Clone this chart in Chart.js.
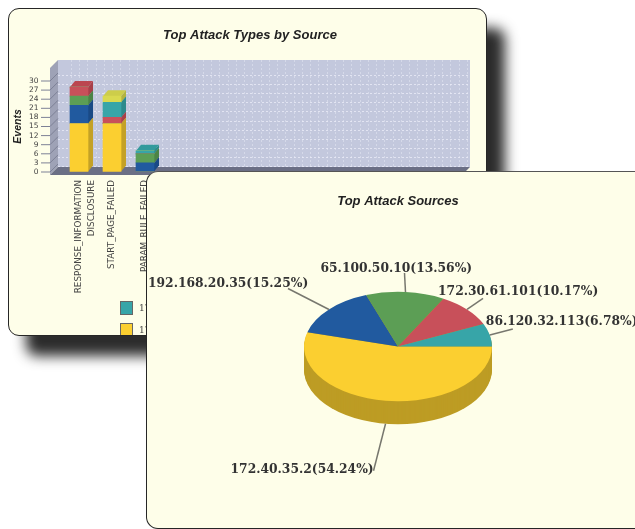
<!DOCTYPE html>
<html>
<head>
<meta charset="utf-8">
<title>Top Attack Charts</title>
<script src="https://cdn.jsdelivr.net/npm/chart.js@4/dist/chart.umd.min.js"></script>
<style>
    html, body { margin: 0; padding: 0; background: #fff; overflow: hidden; width: 635px; height: 529px; }
    canvas { display: block; }
    .card { position: absolute; box-sizing: border-box; background: #fefee9; border: 1.5px solid #262626; }
    #backCard { left: 8px; top: 8px; width: 479px; height: 328px; border-radius: 11px; box-shadow: 18px 20px 13px #2c2c2c; overflow: hidden; }
    #frontCard { left: 146px; top: 171px; width: 600px; height: 358px; border-radius: 12px; border-top-color: #555; }
    #barWrap { position: absolute; left: 12px; top: 8px; width: 476px; height: 328px; filter: blur(0.6px); }
    #pieWrap { position: absolute; left: 147px; top: 172px; width: 488px; height: 357px; filter: blur(0.6px); }
    #legend { position: absolute; left: 111px; top: 292px; filter: blur(0.4px); }
    #legend div { height: 22px; font: 9px "DejaVu Serif", serif; color: #444; white-space: nowrap; }
    #legend i { display: inline-block; box-sizing: border-box; width: 13px; height: 14px; margin-right: 6px; border: 1px solid #666; vertical-align: middle; }
</style>
</head>
<body>
<div id="backCard" class="card"><div id="legend"></div></div>
<div id="barWrap"><canvas id="typesChart" width="476" height="328"></canvas></div>
<div id="frontCard" class="card"></div>
<div id="pieWrap"><canvas id="sourcesChart" width="488" height="357"></canvas></div>
<script>
    // bar chart data
    var attackTypes = [['RESPONSE_INFORMATION', 'DISCLOSURE'], 'START_PAGE_FAILED', 'PARAM_RULE_FAILED'];
    var yellowEvents = [16, 16, 0];
    var blueEvents = [6, 0, 3];
    var greenEvents = [3, 0, 3];
    var redEvents = [3, 2, 0];
    var tealEvents = [0, 5, 1];
    var limeEvents = [0, 2, 0];
    var legendLabels = ['172.30.61.101', '172.40.35.2'];

    // pie chart data
    var sourceNames = ['172.40.35.2', '192.168.20.35', '65.100.50.10', '172.30.61.101', '86.120.32.113'];
    var sourceCounts = [32, 9, 8, 6, 4];

    var yellow = '#fbcf30', blue = '#215a9f', green = '#5c9e55', red = '#c8505a', teal = '#37a5a8', lime = '#d9d94f';
    var shades = {};
    shades[yellow] = { side: '#c4a126', top: '#e6bd2c' };
    shades[blue] = { side: '#1a4a85', top: '#1d5090' };
    shades[green] = { side: '#4b8446', top: '#52904c' };
    shades[red] = { side: '#a84049', top: '#bb4650' };
    shades[teal] = { side: '#2c8a8c', top: '#329a9c' };
    shades[lime] = { side: '#b3b33f', top: '#cdcd4a' };

    var barDepthX = 5, barDepthY = 6;

    function quad(ctx, pts, color) {
        ctx.fillStyle = color;
        ctx.beginPath();
        ctx.moveTo(pts[0][0], pts[0][1]);
        for (var i = 1; i < pts.length; i++) ctx.lineTo(pts[i][0], pts[i][1]);
        ctx.closePath();
        ctx.fill();
    }

    // back wall, side wall and floor of the fake 3d box
    var wallPlugin = {
        id: 'walls',
        beforeDraw: function (chart) {
            var ctx = chart.ctx, a = chart.chartArea, y = chart.scales.y, x = chart.scales.x;
            var L = a.left - 12.5, R = a.right + 3.5, B = a.bottom, T = a.top - 13, d = 8;
            ctx.save();

            ctx.font = "italic bold 13px 'Liberation Sans', sans-serif";
            ctx.fillStyle = '#222';
            ctx.textAlign = 'center';
            ctx.textBaseline = 'middle';
            ctx.fillText('Top Attack Types by Source', 238, 27);

            quad(ctx, [[L + d, T - d], [R + d, T - d], [R + d, B - 5], [L + d, B - 5]], '#c3c8dd');
            quad(ctx, [[L, T], [L + d, T - d], [L + d, B - 5], [L, B + 3]], '#9ea2b6');

            ctx.strokeStyle = 'rgba(236,238,248,0.75)';
            ctx.lineWidth = 1;
            ctx.setLineDash([2, 2]);
            y.ticks.forEach(function (t) {
                var py = Math.round(y.getPixelForValue(t.value) - 6) + 0.5;
                ctx.beginPath(); ctx.moveTo(L + d, py); ctx.lineTo(R + d, py); ctx.stroke();
            });
            ctx.strokeStyle = 'rgba(236,238,248,0.45)';
            for (var v = -0.25; x.getPixelForValue(v) < R + d; v += 0.25) {
                var px = Math.round(x.getPixelForValue(v)) + 0.5;
                ctx.beginPath(); ctx.moveTo(px, T - d); ctx.lineTo(px, B - 5); ctx.stroke();
            }
            ctx.setLineDash([]);

            ctx.strokeStyle = '#7d8196';
            y.ticks.forEach(function (t) {
                var py = y.getPixelForValue(t.value);
                ctx.beginPath(); ctx.moveTo(L - 9, py); ctx.lineTo(L, py); ctx.lineTo(L + d, py - 8); ctx.stroke();
            });
            quad(ctx, [[L + d, B - 5], [R + d, B - 5], [R, B + 3], [L, B + 3]], '#6b6f85');
            ctx.restore();
        },
        beforeDatasetsDraw: function (chart) {
            var ctx = chart.ctx;
            ctx.save();
            chart.data.datasets.forEach(function (ds, i) {
                var s = shades[ds.backgroundColor];
                chart.getDatasetMeta(i).data.forEach(function (bar, j) {
                    if (!ds.data[j]) return;
                    var r = bar.getProps(['x', 'y', 'base', 'width'], true);
                    var x1 = r.x - r.width / 2, x2 = r.x + r.width / 2;
                    quad(ctx, [[x2, r.y], [x2 + barDepthX, r.y - barDepthY], [x2 + barDepthX, r.base - barDepthY], [x2, r.base]], s.side);
                    quad(ctx, [[x1, r.y], [x1 + barDepthX, r.y - barDepthY], [x2 + barDepthX, r.y - barDepthY], [x2, r.y]], s.top);
                });
            });
            ctx.restore();
        }
    };

    // the box is wider than the three bars, the rest of the axis stays empty
    var xLabels = attackTypes.concat(['', '', '', '', '', '', '', '', '']);

    new Chart(document.getElementById('typesChart'), {
        type: 'bar',
        data: {
            labels: xLabels,
            datasets: [
                { label: '172.40.35.2', data: yellowEvents, backgroundColor: yellow },
                { label: '192.168.20.35', data: blueEvents, backgroundColor: blue },
                { label: '65.100.50.10', data: greenEvents, backgroundColor: green },
                { label: '86.120.32.113', data: redEvents, backgroundColor: red },
                { label: '172.30.61.101', data: tealEvents, backgroundColor: teal },
                { label: 'other', data: limeEvents, backgroundColor: lime }
            ]
        },
        options: {
            responsive: false,
            animation: false,
            datasets: { bar: { barThickness: 18 } },
            layout: { padding: { left: 0, right: 29.5, top: 73, bottom: 0 } },
            plugins: {
                legend: { display: false },
                tooltip: { enabled: false }
            },
            scales: {
                x: {
                    stacked: true,
                    grid: { display: false, drawTicks: false },
                    border: { display: false },
                    afterFit: function (scale) {
                        scale.height = 164;
                        scale.paddingLeft = 0;
                        scale.paddingRight = 0;
                    },
                    ticks: {
                        autoSkip: false,
                        minRotation: 90,
                        maxRotation: 90,
                        padding: 8,
                        color: '#444',
                        font: { family: "'DejaVu Sans', sans-serif", size: 8.8, lineHeight: 1.5 }
                    }
                },
                y: {
                    stacked: true,
                    min: 0,
                    max: 30,
                    grid: { drawOnChartArea: false, drawTicks: false },
                    border: { display: false },
                    afterFit: function (scale) { scale.width = 50.5; },
                    title: {
                        display: true,
                        text: 'Events',
                        color: '#222',
                        padding: 0,
                        font: { family: "'Liberation Sans', sans-serif", size: 10.5, weight: 'bold', style: 'italic' }
                    },
                    ticks: {
                        stepSize: 3,
                        autoSkip: false,
                        padding: 24,
                        color: '#444',
                        font: { family: "'DejaVu Sans', sans-serif", size: 7.5 }
                    }
                }
            }
        },
        plugins: [wallPlugin]
    });

    var legendBox = document.getElementById('legend');
    [teal, yellow].forEach(function (color, i) {
        var row = document.createElement('div');
        row.innerHTML = '<i style="background:' + color + '"></i>' + legendLabels[i];
        legendBox.appendChild(row);
    });

    // pie is squashed into an ellipse, rim is drawn by repeating the slices downward
    var pieSquash = 0.582, pieRim = 23;
    var pieDark = '#bd9c24';
    var leaderEnds = [[-12, 47], [-41, -21], [-1, -19], [16, -11], [23, -6]];
    var labelOffsets = [[-143, -1], [-140, -5], [-84, -4], [-45, -7], [-27, -7]];

    var piePlugin = {
        id: 'pie3d',
        beforeDatasetsDraw: function (chart) {
            var ctx = chart.ctx, arcs = chart.getDatasetMeta(0).data;
            var cx = arcs[0].x, cy = arcs[0].y;
            ctx.save();
            ctx.translate(cx, cy);
            ctx.scale(1, pieSquash);
            ctx.translate(-cx, -cy);
            ctx.fillStyle = pieDark;
            for (var d = pieRim; d > 0; d--) {
                ctx.beginPath();
                ctx.arc(cx, cy + d / pieSquash, arcs[0].outerRadius, 0, Math.PI * 2);
                ctx.fill();
            }
        },
        afterDatasetsDraw: function (chart) {
            var ctx = chart.ctx, arcs = chart.getDatasetMeta(0).data;
            ctx.restore();
            var total = sourceCounts.reduce(function (s, v) { return s + v; }, 0);
            ctx.save();
            ctx.font = "bold 12.3px 'DejaVu Serif', serif";
            ctx.textBaseline = 'middle';
            arcs.forEach(function (arc, i) {
                var mid = (arc.startAngle + arc.endAngle) / 2;
                var sx = arc.x + Math.cos(mid) * arc.outerRadius;
                var sy = arc.y + Math.sin(mid) * arc.outerRadius * pieSquash;
                if (Math.sin(mid) > 0) sy += pieRim;
                var ex = sx + leaderEnds[i][0], ey = sy + leaderEnds[i][1];
                ctx.strokeStyle = '#77776e';
                ctx.lineWidth = 1.5;
                ctx.beginPath(); ctx.moveTo(sx, sy); ctx.lineTo(ex, ey); ctx.stroke();
                ctx.fillStyle = '#333';
                var text = sourceNames[i] + '(' + (sourceCounts[i] / total * 100).toFixed(2) + '%)';
                ctx.fillText(text, ex + labelOffsets[i][0], ey + labelOffsets[i][1]);
            });
            ctx.restore();
        }
    };

    new Chart(document.getElementById('sourcesChart'), {
        type: 'pie',
        data: {
            labels: sourceNames,
            datasets: [{
                data: sourceCounts,
                backgroundColor: [yellow, blue, green, red, teal],
                borderWidth: 0
            }]
        },
        options: {
            responsive: false,
            animation: false,
            rotation: 90,
            layout: { padding: { left: 156.5, right: 142.5, top: 22, bottom: 88.5 } },
            plugins: {
                legend: { display: false },
                tooltip: { enabled: false },
                title: {
                    display: true,
                    text: 'Top Attack Sources',
                    color: '#222',
                    font: { family: "'Liberation Sans', sans-serif", size: 13, weight: 'bold', style: 'italic' },
                    padding: { top: 0, bottom: 43 }
                }
            }
        },
        plugins: [piePlugin]
    });
</script>
</body>
</html>
